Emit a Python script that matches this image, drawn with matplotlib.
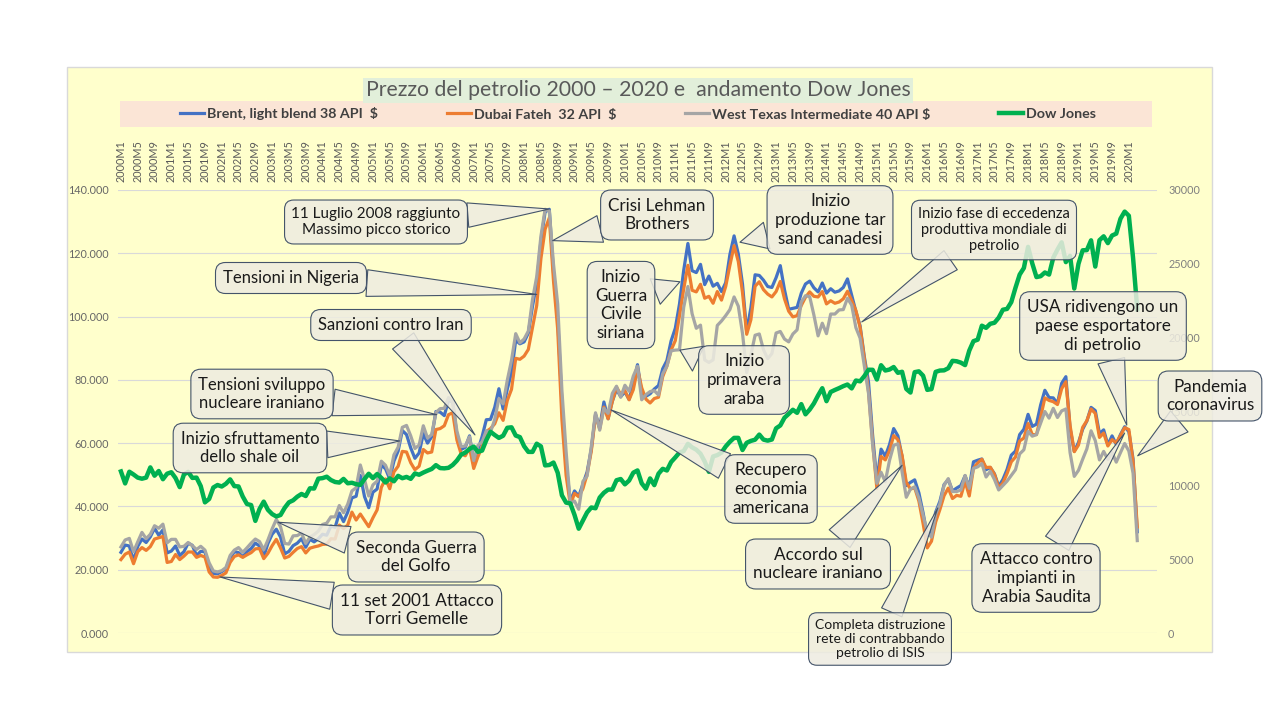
import matplotlib
matplotlib.use("Agg")
import matplotlib.pyplot as plt
from matplotlib.patches import Rectangle
import numpy as np

plt.rcParams['font.family'] = ['Lato', 'DejaVu Sans']

# Dati mensili 2000M1 - 2020M3
months = [f"{y}M{m}" for y in range(2000, 2021) for m in range(1, 13)][:243]

brent = [
    25.5, 27.8, 27.5, 22.8, 27.4, 29.7, 28.6, 30.4, 33.1, 30.9, 32.6, 25.3,  # 2000
    25.9, 27.5, 24.5, 25.7, 28.4, 27.7, 24.5, 25.8, 25.7, 20.5, 18.8, 18.7,  # 2001
    19.4, 20.3, 23.7, 25.7, 25.4, 24.1, 25.7, 26.7, 28.4, 27.5, 24.2, 28.3,  # 2002
    31.2, 32.8, 30.3, 25.0, 25.8, 27.6, 28.4, 29.8, 27.1, 29.6, 28.8, 29.8,  # 2003
    31.2, 30.9, 33.8, 33.4, 37.9, 35.2, 38.2, 42.7, 43.2, 49.8, 43.1, 39.6,  # 2004
    44.5, 45.5, 53.1, 51.9, 48.7, 54.3, 57.5, 64.0, 62.7, 58.5, 55.2, 56.9,  # 2005
    63.0, 60.0, 62.0, 70.0, 69.8, 68.7, 73.6, 73.0, 62.5, 58.0, 58.7, 62.3,  # 2006
    54.3, 57.8, 62.1, 67.4, 67.5, 71.3, 77.2, 70.8, 77.1, 82.3, 92.5, 91.4,  # 2007
    92.0, 94.8, 103.3, 110.4, 123.9, 133.1, 133.9, 113.9, 99.1, 72.8, 53.2, 41.6,  # 2008
    44.9, 43.2, 47.0, 50.9, 58.1, 69.1, 65.0, 73.0, 67.7, 73.2, 77.0, 74.7,  # 2009
    76.2, 73.8, 78.8, 84.8, 75.9, 74.8, 75.6, 77.1, 78.2, 83.5, 86.1, 92.3,  # 2010
    96.3, 104.0, 114.6, 123.1, 114.5, 113.9, 116.5, 110.1, 112.8, 109.6, 110.5, 107.9,  # 2011
    110.7, 119.6, 125.5, 119.8, 110.3, 95.2, 102.8, 113.2, 113.0, 111.5, 109.5, 109.2,  # 2012
    112.3, 116.1, 108.5, 102.3, 102.6, 102.9, 107.4, 110.3, 111.2, 109.1, 107.8, 110.6,  # 2013
    107.4, 108.8, 107.7, 108.1, 109.2, 111.9, 106.7, 101.6, 97.1, 87.4, 79.4, 62.3,  # 2014
    48.0, 58.1, 55.9, 59.5, 64.6, 62.3, 55.8, 46.6, 47.6, 48.4, 44.3, 38.0,  # 2015
    30.7, 32.2, 38.2, 41.6, 46.9, 48.5, 44.9, 45.8, 46.6, 49.7, 45.9, 54.1,  # 2016
    54.6, 55.0, 51.6, 52.3, 50.3, 46.4, 48.5, 51.7, 56.2, 57.5, 62.7, 64.4,  # 2017
    69.1, 65.3, 66.0, 72.1, 76.7, 74.4, 74.3, 72.5, 78.9, 81.0, 64.7, 57.4,  # 2018
    60.2, 64.4, 67.0, 71.3, 70.3, 63.0, 64.2, 59.5, 62.3, 59.6, 62.7, 65.2,  # 2019
    63.6, 55.0, 32.0,  # 2020
]

dubai = [
    23.2, 24.9, 25.6, 21.9, 25.7, 27.0, 26.1, 27.3, 29.7, 30.1, 30.5, 22.3,  # 2000
    22.6, 24.8, 23.2, 24.3, 25.6, 25.6, 23.9, 24.5, 24.0, 19.3, 17.7, 17.6,  # 2001
    18.2, 19.0, 22.3, 24.2, 24.7, 23.9, 24.7, 25.4, 26.6, 26.7, 23.5, 25.2,  # 2002
    27.6, 29.6, 26.9, 23.7, 24.2, 25.5, 26.7, 27.3, 25.3, 26.8, 27.2, 27.5,  # 2003
    28.0, 28.1, 29.8, 29.7, 34.1, 33.0, 34.1, 38.2, 35.7, 37.6, 35.6, 33.6,  # 2004
    36.4, 38.9, 46.0, 48.7, 45.6, 50.9, 52.7, 57.4, 57.2, 53.8, 51.6, 52.7,  # 2005
    58.0, 56.9, 57.2, 64.3, 64.6, 65.5, 69.0, 69.6, 61.0, 56.6, 56.0, 58.6,  # 2006
    52.0, 55.7, 58.8, 63.7, 64.6, 66.1, 69.6, 67.2, 73.5, 77.0, 86.8, 86.5,  # 2007
    87.5, 89.6, 96.6, 103.5, 118.3, 127.6, 131.2, 111.2, 95.9, 67.5, 49.8, 40.5,  # 2008
    44.1, 43.1, 45.6, 50.1, 57.5, 68.8, 64.5, 71.4, 67.7, 73.2, 77.7, 75.4,  # 2009
    76.6, 73.7, 76.9, 83.5, 77.5, 73.9, 72.7, 74.1, 74.5, 81.0, 84.4, 89.4,  # 2010
    92.4, 100.3, 108.7, 116.2, 108.3, 107.8, 110.2, 105.8, 106.4, 104.2, 107.9, 105.2,  # 2011
    109.5, 116.2, 122.4, 117.4, 107.6, 94.4, 99.0, 109.6, 111.0, 108.5, 107.1, 106.2,  # 2012
    107.9, 111.1, 105.6, 101.7, 99.9, 100.3, 103.5, 106.1, 107.8, 106.4, 106.2, 107.9,  # 2013
    104.0, 105.0, 104.2, 104.6, 105.6, 108.0, 105.1, 101.9, 96.6, 86.8, 76.4, 60.1,  # 2014
    45.6, 55.8, 54.7, 57.6, 62.4, 61.1, 56.1, 47.6, 45.5, 45.9, 41.7, 34.6,  # 2015
    26.9, 29.0, 35.1, 39.0, 43.4, 45.8, 42.5, 43.5, 43.2, 47.9, 43.3, 52.1,  # 2016
    53.7, 54.9, 52.3, 52.4, 50.1, 45.9, 47.4, 50.4, 54.1, 55.6, 60.7, 61.6,  # 2017
    66.2, 62.7, 62.7, 68.3, 74.3, 73.5, 73.1, 72.2, 77.2, 79.4, 65.6, 57.3,  # 2018
    59.4, 65.0, 67.1, 70.8, 69.4, 61.8, 63.2, 59.1, 61.1, 60.1, 62.4, 64.9,  # 2019
    64.3, 54.2, 33.5,  # 2020
]

wti = [
    27.2, 29.4, 29.9, 25.7, 28.8, 31.8, 29.8, 31.2, 33.9, 33.1, 34.4, 28.5,  # 2000
    29.6, 29.6, 27.2, 27.4, 28.6, 27.6, 26.4, 27.4, 26.2, 22.2, 19.6, 19.3,  # 2001
    19.7, 20.7, 24.5, 26.2, 27.0, 25.5, 26.9, 28.4, 29.7, 28.9, 26.3, 29.4,  # 2002
    32.9, 35.9, 33.6, 28.3, 28.1, 30.7, 30.8, 31.6, 28.3, 30.3, 31.1, 32.2,  # 2003
    34.3, 34.7, 36.7, 36.7, 40.3, 38.0, 40.7, 44.9, 45.9, 53.1, 48.5, 43.3,  # 2004
    46.8, 48.0, 54.3, 53.0, 49.8, 56.3, 58.7, 65.0, 65.6, 62.3, 58.3, 59.4,  # 2005
    65.5, 61.6, 62.7, 69.7, 70.9, 71.0, 74.4, 73.0, 63.8, 58.9, 59.1, 62.0,  # 2006
    54.5, 59.3, 60.4, 63.9, 63.5, 67.5, 74.1, 72.4, 79.9, 86.2, 94.6, 91.7,  # 2007
    92.9, 95.4, 105.4, 112.6, 125.4, 133.9, 133.4, 116.6, 103.9, 76.7, 57.4, 41.0,  # 2008
    41.7, 39.1, 47.9, 49.6, 59.0, 69.6, 64.1, 71.0, 69.4, 75.7, 78.0, 74.5,  # 2009
    78.3, 76.4, 81.2, 84.3, 73.7, 75.3, 76.3, 76.6, 75.2, 81.9, 84.3, 89.2,  # 2010
    89.4, 89.5, 102.9, 109.5, 100.9, 96.3, 97.3, 86.3, 85.5, 86.3, 97.2, 98.6,  # 2011
    100.3, 102.2, 106.2, 103.3, 94.7, 82.3, 87.9, 94.1, 94.5, 89.5, 86.7, 88.3,  # 2012
    94.8, 95.3, 92.9, 92.0, 94.5, 95.8, 104.6, 106.6, 106.3, 100.5, 93.9, 97.9,  # 2013
    94.6, 100.8, 100.8, 102.1, 102.2, 105.8, 103.6, 96.5, 93.2, 84.4, 75.8, 59.3,  # 2014
    47.3, 50.8, 47.8, 54.5, 59.3, 59.8, 50.9, 42.9, 45.5, 46.2, 42.7, 37.3,  # 2015
    31.8, 30.3, 37.5, 40.8, 46.7, 48.8, 44.7, 44.7, 45.2, 49.8, 45.7, 52.0,  # 2016
    52.5, 53.5, 49.3, 51.1, 48.5, 45.2, 46.6, 48.0, 49.8, 51.6, 56.6, 57.9,  # 2017
    63.7, 62.2, 62.7, 66.3, 70.0, 67.9, 71.0, 68.1, 70.2, 70.8, 57.0, 49.5,  # 2018
    51.4, 54.9, 58.2, 63.9, 60.8, 54.7, 57.4, 54.8, 57.0, 54.0, 57.0, 59.9,  # 2019
    57.5, 50.5, 29.2,  # 2020
]

dow = [
    10940, 10128, 10922, 10734, 10522, 10448, 10522, 11215, 10651, 10971, 10415, 10788,  # 2000
    10887, 10495, 9879, 10735, 10912, 10502, 10523, 9950, 8848, 9075, 9852, 10022,  # 2001
    9920, 10106, 10404, 9946, 9925, 9243, 8737, 8664, 7592, 8397, 8896, 8342,  # 2002
    8054, 7891, 7992, 8480, 8850, 8985, 9234, 9416, 9275, 9801, 9782, 10454,  # 2003
    10488, 10584, 10358, 10226, 10188, 10435, 10140, 10174, 10080, 10027, 10428, 10783,  # 2004
    10490, 10766, 10504, 10193, 10467, 10275, 10641, 10482, 10569, 10440, 10806, 10718,  # 2005
    10865, 10993, 11109, 11367, 11168, 11150, 11186, 11381, 11679, 12081, 12222, 12463,  # 2006
    12622, 12269, 12354, 13063, 13628, 13409, 13212, 13358, 13896, 13930, 13372, 13265,  # 2007
    12650, 12266, 12263, 12820, 12638, 11350, 11378, 11544, 10851, 9325, 8829, 8776,  # 2008
    8001, 7063, 7609, 8168, 8500, 8447, 9172, 9496, 9712, 9713, 10345, 10428,  # 2009
    10067, 10325, 10857, 11009, 10137, 9774, 10466, 10015, 10788, 11118, 11006, 11578,  # 2010
    11892, 12226, 12320, 12811, 12570, 12414, 12143, 11614, 10913, 11955, 12046, 12218,  # 2011
    12633, 12952, 13212, 13214, 12393, 12880, 13009, 13091, 13437, 13096, 13026, 13104,  # 2012
    13861, 14054, 14579, 14840, 15116, 14910, 15500, 14810, 15130, 15546, 16086, 16577,  # 2013
    15699, 16322, 16458, 16581, 16717, 16827, 16563, 17098, 17043, 17391, 17828, 17823,  # 2014
    17165, 18133, 17776, 17841, 18011, 17620, 17690, 16528, 16285, 17664, 17720, 17425,  # 2015
    16466, 16517, 17685, 17774, 17787, 17930, 18432, 18401, 18308, 18142, 19124, 19763,  # 2016
    19864, 20812, 20663, 20941, 21009, 21350, 21891, 21948, 22405, 23377, 24272, 24719,  # 2017
    26149, 25029, 24103, 24163, 24416, 24271, 25415, 25965, 26458, 25116, 25538, 23327,  # 2018
    24999, 25916, 25929, 26593, 24815, 26600, 26864, 26403, 26917, 27046, 28051, 28538,  # 2019
    28256, 25409, 21917,  # 2020
]

series_labels = ["Brent, light blend 38 API  $", "Dubai Fateh  32 API  $",
                 "West Texas Intermediate 40 API $", "Dow Jones"]
oil_ticks = [0, 20, 40, 60, 80, 100, 120, 140]
oil_tick_labels = ["0.000", "20.000", "40.000", "60.000", "80.000", "100.000", "120.000", "140.000"]
dow_ticks = [0, 5000, 10000, 15000, 20000, 25000, 30000]
dow_tick_labels = ["0", "5000", "10000", "15000", "20000", "25000", "30000"]

# callout: testo, punto (mese, valore petrolio), centro riquadro (px immagine), font
callouts = [
    ("11 Luglio 2008 raggiunto\nMassimo picco storico", (102, 134), (376, 222), 11),
    ("Crisi Lehman\nBrothers", (102.8, 124), (657, 215), 12.3),
    ("Inizio\nproduzione tar\nsand canadesi", (147.4, 123.5), (830, 220), 12.3),
    ("Inizio fase di eccedenza\nproduttiva mondiale di\npetrolio", (176.4, 98.3), (994, 230), 10.5),
    ("Tensioni in Nigeria", (99, 107), (291, 278), 12),
    ("Sanzioni contro Iran", (84.3, 62.6), (391, 325), 12),
    ("Tensioni sviluppo\nnucleare iraniano", (75.2, 69), (262, 394), 12),
    ("Inizio sfruttamento\ndello shale oil", (66.4, 60.7), (250, 448), 12),
    ("Seconda Guerra\ndel Golfo", (37.4, 35), (416, 557), 12.3),
    ("11 set 2001 Attacco\nTorri Gemelle", (23.6, 17.7), (417, 610), 12.3),
    ("Inizio\nGuerra\nCivile\nsiriana", (133.1, 111), (621, 305), 12.3),
    ("Inizio\nprimavera\naraba", (133.1, 89.4), (744, 380), 12.3),
    ("Recupero\neconomia\namericana", (116.7, 70.5), (771, 489), 12.3),
    ("Accordo sul\nnucleare iraniano", (186, 53), (818, 564), 12.3),
    ("Completa distruzione\nrete di contrabbando\npetrolio di ISIS", (194.5, 39.5), (880, 639), 10),
    ("Attacco contro\nimpianti in\nArabia Saudita", (239, 63.2), (1036, 578), 12.3),
    ("USA ridivengono un\npaese esportatore\ndi petrolio", (239.5, 65.7), (1103, 326), 12.3),
    ("Pandemia\ncoronavirus", (242.1, 56), (1210, 396), 12.3),
]

W, H = 1280, 720
fig = plt.figure(figsize=(12.8, 7.2), dpi=100)
fig.patch.set_facecolor('white')

# area del grafico e fascia legenda
fig.add_artist(Rectangle((67 / W, 1 - 652 / H), 1145 / W, 585 / H, transform=fig.transFigure,
                         fc='#FFFFCC', ec='#D9D9D9', lw=1, zorder=-2))
fig.add_artist(Rectangle((120 / W, 1 - 127 / H), 1032 / W, 26 / H, transform=fig.transFigure,
                         fc='#FBE5D6', ec='none', zorder=-1))

fig.text(638 / W, 1 - 90.5 / H, "Prezzo del petrolio 2000 – 2020 e  andamento Dow Jones",
         ha='center', va='center', fontsize=15.3, color='#595959',
         bbox=dict(boxstyle='square,pad=0.12', fc='#E2EFDA', ec='none'))

ax = fig.add_axes([118 / W, 1 - 633 / H, 1039 / W, 443 / H])
ax.set_facecolor('none')
x = np.arange(len(brent))

l1, = ax.plot(x, brent, color='#4472C4', lw=2.3, solid_joinstyle='round')
l2, = ax.plot(x, dubai, color='#ED7D31', lw=2.3, solid_joinstyle='round')
l3, = ax.plot(x, wti, color='#A5A5A5', lw=2.3, solid_joinstyle='round')

ax2 = ax.twinx()
l4, = ax2.plot(x, dow, color='#00B050', lw=3.2, solid_joinstyle='round')

ax.set_xlim(-0.7, 246.7)
ax.set_ylim(0, 140)
ax2.set_ylim(0, 30000)

ax.xaxis.tick_top()
ax.set_xticks(x[::4])
ax.set_xticklabels(months[::4], rotation=90, va='bottom', ha='center')
ax.tick_params(axis='x', length=0, pad=5.5, labelsize=7.8, labelcolor='#595959')

ax.set_yticks(oil_ticks)
ax.set_yticklabels(oil_tick_labels)
ax.tick_params(axis='y', length=0, pad=6.5, labelsize=7.8, labelcolor='#666666')
ax.grid(axis='y', color='#D9D9D9', lw=0.8)
ax.set_axisbelow(True)

ax2.set_yticks(dow_ticks)
ax2.set_yticklabels(dow_tick_labels)
ax2.tick_params(axis='y', length=0, pad=8, labelsize=7.8, labelcolor='#7F7F7F')

for a in (ax, ax2):
    for s in a.spines.values():
        s.set_visible(False)

leg = ax2.legend([l1, l2, l3, l4], series_labels, loc='center', ncol=4, mode='expand',
                 bbox_to_anchor=(180 / W, 1 - 127 / H, 916 / W, 26 / H), bbox_transform=fig.transFigure,
                 frameon=False, prop=dict(family='Lato', weight='bold', size=10.3),
                 labelcolor='#404040', handlelength=1.7, handletextpad=0.2,
                 borderaxespad=0, borderpad=0)
leg.set_zorder(30)

box_fc = (0.933, 0.925, 0.882, 0.85)
for text, (i, v), (cx, cy), fs in callouts:
    ax2.annotate(text, xy=(i, v), xycoords=ax.transData,
                 xytext=(cx, H - cy), textcoords='figure pixels',
                 ha='center', va='center', multialignment='center',
                 fontsize=fs, color='#1A1A1A', zorder=20, annotation_clip=False,
                 bbox=dict(boxstyle='round,pad=0.45,rounding_size=0.6',
                           fc=box_fc, ec='#44546A', lw=0.8),
                 arrowprops=dict(arrowstyle='wedge,tail_width=1.6,shrink_factor=0.5',
                                 fc=box_fc, ec='#44546A', lw=0.8,
                                 shrinkA=0, shrinkB=0))

fig.savefig('out.png', dpi=100)
